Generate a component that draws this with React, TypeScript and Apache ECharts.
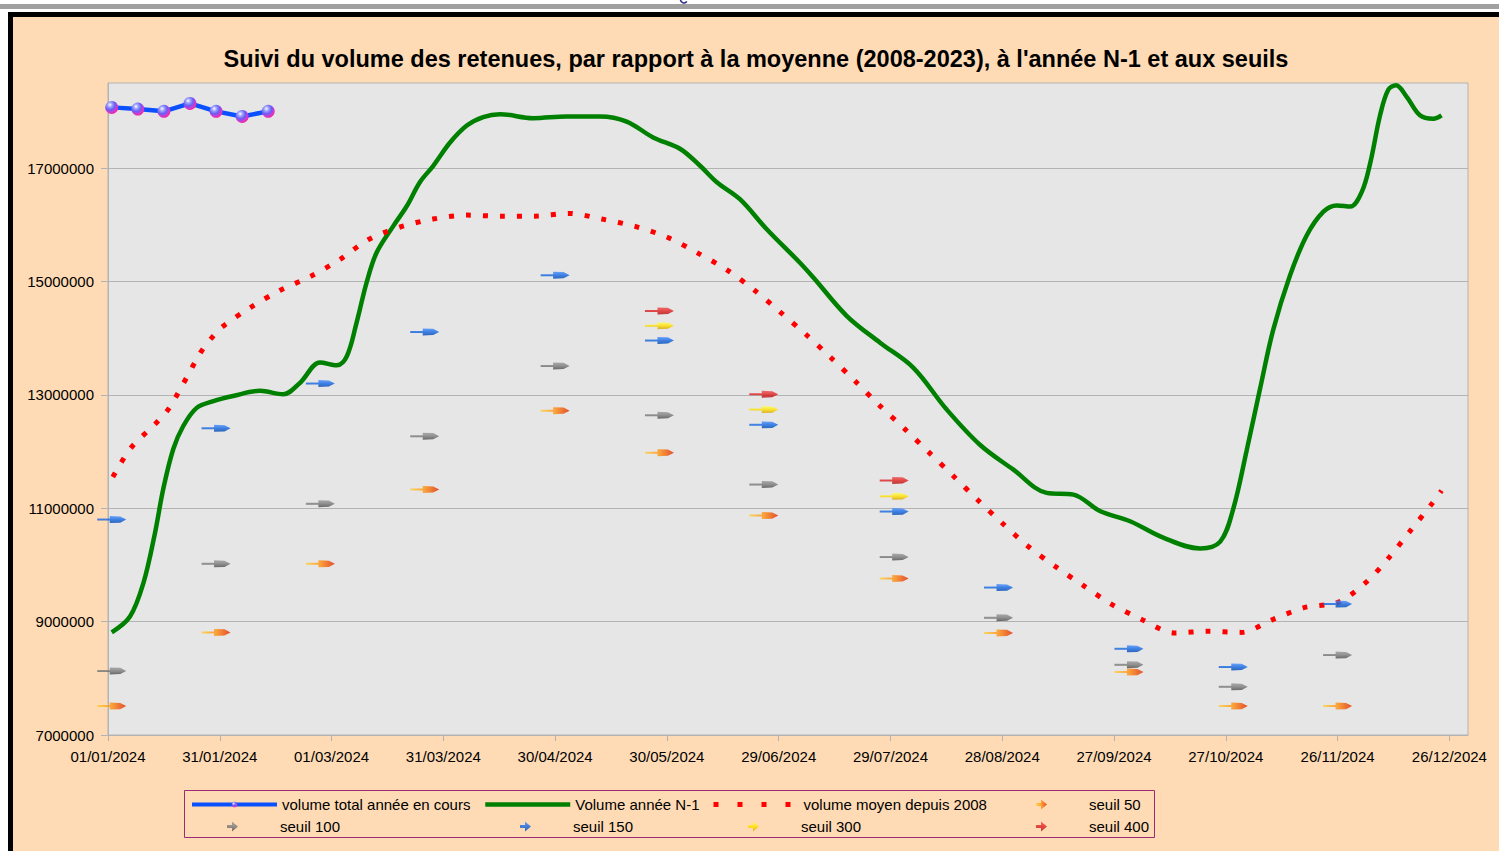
import React, { useEffect, useRef } from "react";
import * as echarts from "echarts";

const titleText =
  "Suivi du volume des retenues, par rapport à la moyenne (2008-2023), à l'année N-1 et aux seuils";

const nameCurrent = "volume total année en cours";
const namePrev = "Volume année N-1";
const nameAvg = "volume moyen depuis 2008";
const nameS50 = "seuil 50";
const nameS100 = "seuil 100";
const nameS150 = "seuil 150";
const nameS300 = "seuil 300";
const nameS400 = "seuil 400";

// x axis: day of year 2024 (0 = 01/01/2024)
const xTicks = [0, 30, 60, 90, 120, 150, 180, 210, 240, 270, 300, 330, 360];
const yTicks = [7000000, 9000000, 11000000, 13000000, 15000000, 17000000];

const currentDays = [1, 8, 15, 22, 29, 36, 43];
const currentVals = [18070000, 18040000, 18000000, 18140000, 18000000, 17910000, 18000000];

const prevDays = [
  1, 5.9, 9.5, 12.6, 14.8, 17.5, 20.2, 23.8, 28.3, 33.6,
  40.8, 47, 51.5, 56.9, 61.4, 64.1, 66.7, 69.4, 72.1, 76.6,
  80.2, 83.7, 87.3, 91.8, 96.3, 100.7, 105.2, 114.1, 123.1, 132.1,
  139.2, 146.3, 153.5, 158.9, 163.4, 169.6, 176.8, 185.7, 189.3, 198.3,
  207.2, 216.1, 225.1, 234, 243, 251.9, 259.1, 266.2, 274.3, 283.2,
  293.1, 298.5, 302, 305.6, 309.2, 312.7, 317.2, 321.7, 326.2, 329.8,
  333.4, 336.5, 338.8, 341.4, 343.6, 345.7, 348.6, 352.1, 355.7, 357.9,
];
const prevVals = [
  8810000, 9090000, 9680000, 10560000, 11330000, 12040000, 12450000, 12770000, 12890000, 12980000,
  13070000, 13010000, 13210000, 13570000, 13520000, 13680000, 14270000, 14980000, 15510000, 15980000,
  16330000, 16750000, 17040000, 17450000, 17750000, 17900000, 17950000, 17880000, 17910000, 17910000,
  17820000, 17540000, 17340000, 17040000, 16750000, 16450000, 15920000, 15330000, 15070000, 14390000,
  13920000, 13480000, 12740000, 12120000, 11680000, 11270000, 11240000, 10950000, 10770000, 10480000,
  10290000, 10410000, 10990000, 12020000, 13110000, 14140000, 15100000, 15810000, 16230000, 16340000,
  16320000, 16580000, 17100000, 17930000, 18380000, 18460000, 18250000, 17930000, 17870000, 17930000,
];

const avgDays = [
  1.3, 6.1, 12.6, 15.7, 18.2, 24.8, 27.5, 30.7, 38.2, 46.1, 54.4, 62.3,
  69.9, 78.4, 87.2, 96.3, 105.4, 114.5, 123.6, 132.6, 141.5, 150.1,
  158.3, 166.2, 173.6, 180.4, 187.4, 194.1, 200.7, 207.1, 213.8, 220.4,
  227, 233.5, 240.1, 246.9, 254.3, 261.9, 269.5, 277.7, 286.1, 295.1,
  304.2, 312.7, 321.2, 330.1, 337.6, 343.8, 349.5, 355.2, 357.9,
];
const avgVals = [
  11550000, 12060000, 12480000, 12700000, 12960000, 13740000, 13980000, 14200000, 14540000, 14840000, 15090000, 15390000,
  15740000, 15960000, 16100000, 16170000, 16150000, 16150000, 16200000, 16100000, 15970000, 15780000,
  15500000, 15200000, 14840000, 14460000, 14060000, 13650000, 13230000, 12810000, 12400000, 11980000,
  11560000, 11140000, 10730000, 10330000, 9970000, 9630000, 9300000, 9030000, 8800000, 8830000,
  8810000, 9040000, 9250000, 9340000, 9690000, 10130000, 10600000, 11070000, 11310000,
];

const seuilDays = [1, 29, 57, 85, 120, 148, 176, 211, 239, 274, 302, 330];
const seuil50 = [7510000, 8810000, 10020000, 11330000, 12720000, 11980000, 10870000, 9760000, 8800000, 8110000, 7510000, 7510000];
const seuil100 = [8130000, 10020000, 11080000, 12270000, 13510000, 12640000, 11420000, 10140000, 9070000, 8240000, 7850000, 8410000];
const seuil150 = [10800000, 12410000, 13200000, 14110000, 15110000, 13960000, 12470000, 10940000, 9600000, 8520000, 8200000, 9310000];
const seuil300 = [null, null, null, null, null, 14220000, 12740000, 11210000, null, null, null, null];
const seuil400 = [null, null, null, null, null, 14480000, 13010000, 11490000, null, null, null, null];

const ARROW = "path://M0,2.5L12.5,2.5L12.5,0L23,0.4L29,3.5L23,6.6L12.5,7L12.5,4.5L0,4.5Z";
const ARROW_LEGEND = "path://M0,0M85,14M37,5.6L42,5.6L42,2L48,7L42,12L42,8.4L37,8.4Z";

const FONT = "'Liberation Sans', Arial, sans-serif";

function pairs(days: number[], vals: (number | null)[]) {
  const out: number[][] = [];
  days.forEach((d, i) => {
    const v = vals[i];
    if (v !== null && v !== undefined) out.push([d, v]);
  });
  return out;
}

function fmtDate(v: number) {
  const d = new Date(Date.UTC(2024, 0, 1) + Math.round(v) * 86400000);
  const dd = String(d.getUTCDate()).padStart(2, "0");
  const mm = String(d.getUTCMonth() + 1).padStart(2, "0");
  return dd + "/" + mm + "/" + d.getUTCFullYear();
}

function hGrad(stops: string[]) {
  return {
    type: "linear",
    x: 0,
    y: 0,
    x2: 1,
    y2: 0,
    colorStops: stops.map((c, i) => ({ offset: i / (stops.length - 1), color: c })),
  };
}
function vGrad(stops: string[]) {
  return {
    type: "linear",
    x: 0,
    y: 0,
    x2: 0,
    y2: 1,
    colorStops: stops.map((c, i) => ({ offset: i / (stops.length - 1), color: c })),
  };
}

const sphere = {
  type: "radial",
  x: 0.36,
  y: 0.3,
  r: 0.78,
  colorStops: [
    { offset: 0, color: "#ffffff" },
    { offset: 0.22, color: "#9fa6ff" },
    { offset: 0.5, color: "#6a5cf5" },
    { offset: 0.75, color: "#d23ad0" },
    { offset: 1, color: "#ff1a8c" },
  ],
};

function seuilSeries(name: string, vals: (number | null)[], color: any) {
  return {
    name,
    type: "scatter",
    data: pairs(seuilDays, vals),
    symbol: ARROW,
    symbolSize: [29, 7],
    itemStyle: { color },
    z: 5,
  };
}

function legendItem(name: string, left: number, top: number, h: number, extra: any = {}) {
  return {
    data: [extra.icon ? { name, icon: extra.icon } : { name }],
    left,
    top,
    orient: "horizontal",
    itemWidth: 85,
    itemHeight: h,
    padding: 0,
    selectedMode: false,
    textStyle: { color: "#000", fontSize: 15, fontFamily: FONT },
    ...(extra.itemStyle ? { itemStyle: extra.itemStyle } : {}),
    ...(extra.lineStyle ? { lineStyle: extra.lineStyle } : {}),
  };
}

export default function App() {
  const ref = useRef<HTMLDivElement>(null);

  useEffect(() => {
    if (!ref.current) return;
    const chart = echarts.init(ref.current, null, { renderer: "svg" });
    const colOrange = hGrad(["#ffd040", "#ff9010", "#e02800"]);
    const colGrey = vGrad(["#9a9a9a", "#7a7a7a", "#4a4a4a"]);
    const colBlue = vGrad(["#4a90ff", "#1466e0", "#0048b0"]);
    const colYellow = vGrad(["#ffff60", "#ffe000", "#d8a000"]);
    const colRed = vGrad(["#f05050", "#e02020", "#b01010"]);
    const hidden = { opacity: 0, color: "transparent", borderWidth: 0 };

    chart.setOption({
      animation: false,
      backgroundColor: "transparent",
      title: {
        text: titleText,
        left: 756,
        top: 47,
        padding: 0,
        textAlign: "center",
        textStyle: { fontFamily: FONT, fontWeight: "bold", fontSize: 23.5, color: "#000" },
      },
      grid: {
        left: 108,
        right: 31,
        top: 83,
        bottom: 116,
        show: true,
        backgroundColor: "#e6e6e6",
        borderColor: "#b3b3b3",
        borderWidth: 1,
      },
      xAxis: {
        type: "value",
        min: 0,
        max: 365,
        interval: 30,
        axisLine: { show: true, lineStyle: { color: "#b3b3b3", width: 1 } },
        axisTick: { show: true, length: 6, lineStyle: { color: "#b3b3b3" }, customValues: xTicks },
        axisLabel: {
          customValues: xTicks,
          formatter: (v: number) => fmtDate(v),
          color: "#000",
          fontSize: 15,
          fontFamily: FONT,
          margin: 14,
        },
        splitLine: { show: false },
      },
      yAxis: {
        type: "value",
        min: 7000000,
        max: 18500000,
        interval: 2000000,
        axisLine: { show: true, lineStyle: { color: "#b3b3b3", width: 1 } },
        axisTick: { show: true, length: 7, lineStyle: { color: "#b3b3b3" }, customValues: yTicks },
        axisLabel: {
          customValues: yTicks,
          formatter: (v: number) => String(v),
          color: "#000",
          fontSize: 15,
          fontFamily: FONT,
          margin: 14,
        },
        splitLine: { show: true, lineStyle: { color: "#b3b3b3", width: 1 } },
      },
      legend: [
        legendItem(nameCurrent, 190, 797, 7, { lineStyle: { width: 4 } }),
        legendItem(namePrev, 483, 797, 14, { itemStyle: hidden, lineStyle: { width: 4.5 } }),
        legendItem(nameAvg, 711, 797, 14, { itemStyle: hidden, lineStyle: { width: 5, type: [5, 19], cap: "butt" } }),
        legendItem(nameS50, 999, 797, 14, { icon: ARROW_LEGEND }),
        legendItem(nameS100, 190, 819, 14, { icon: ARROW_LEGEND }),
        legendItem(nameS150, 483, 819, 14, { icon: ARROW_LEGEND }),
        legendItem(nameS300, 711, 819, 14, { icon: ARROW_LEGEND }),
        legendItem(nameS400, 999, 819, 14, { icon: ARROW_LEGEND }),
      ],
      graphic: [
        {
          type: "rect",
          shape: { x: 184.5, y: 790.5, width: 970, height: 47 },
          style: { fill: "none", stroke: "#9c2a74", lineWidth: 1 },
          silent: true,
        },
        {
          type: "arc",
          shape: { cx: 684, cy: -0.5, r: 3.5, startAngle: Math.PI * 0.2, endAngle: Math.PI, clockwise: true },
          style: { stroke: "#2b2b8c", lineWidth: 1.6, fill: "none" },
          silent: true,
        },
      ],
      series: [
        {
          name: nameCurrent,
          type: "line",
          data: pairs(currentDays, currentVals),
          lineStyle: { color: "#0a50ff", width: 4.5 },
          itemStyle: { color: sphere, borderWidth: 0 },
          symbol: "circle",
          symbolSize: 13,
          showSymbol: true,
          z: 4,
        },
        {
          name: namePrev,
          type: "line",
          data: pairs(prevDays, prevVals),
          smooth: 0.35,
          symbol: "none",
          lineStyle: { color: "#008000", width: 4.5 },
          itemStyle: { color: "#008000" },
          z: 3,
        },
        {
          name: nameAvg,
          type: "line",
          data: pairs(avgDays, avgVals),
          smooth: 0.3,
          symbol: "none",
          lineStyle: { color: "#ff0000", width: 5, type: [5, 12], cap: "butt" },
          itemStyle: { color: "#ff0000" },
          z: 3,
        },
        seuilSeries(nameS50, seuil50, colOrange),
        seuilSeries(nameS100, seuil100, colGrey),
        seuilSeries(nameS150, seuil150, colBlue),
        seuilSeries(nameS300, seuil300, colYellow),
        seuilSeries(nameS400, seuil400, colRed),
      ],
    });
    return () => chart.dispose();
  }, []);

  return (
    <div style={{ position: "fixed", left: 0, top: 0, width: 1499, height: 851, background: "#ffffff", overflow: "hidden" }}>
      <div style={{ position: "absolute", left: 0, top: 4, width: 1499, height: 5, background: "#a0a0a0" }} />
      <div
        style={{
          position: "absolute",
          left: 8,
          top: 12,
          width: 1491,
          height: 839,
          boxSizing: "border-box",
          borderLeft: "5px solid #000",
          borderTop: "5px solid #000",
          background: "#ffdbb5",
        }}
      />
      <div ref={ref} style={{ position: "absolute", left: 0, top: 0, width: 1499, height: 851 }} />
    </div>
  );
}
